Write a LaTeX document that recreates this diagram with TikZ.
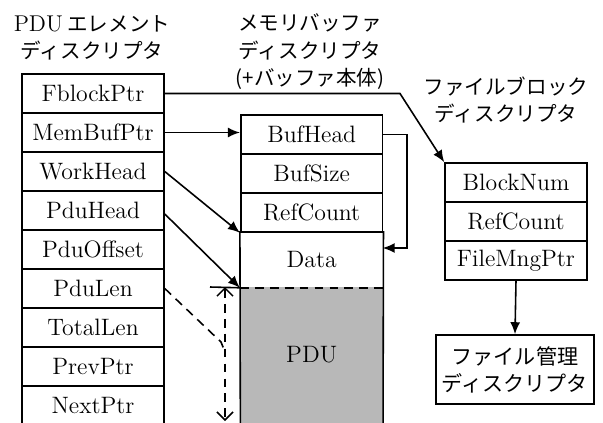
\documentclass[tikz,border=0pt]{standalone}
\usepackage{fontspec}
\newfontfamily\jafont{Noto Sans CJK JP}
\usetikzlibrary{arrows.meta,positioning}

\begin{document}
\begin{tikzpicture}[x=0.02cm, y=-0.02cm,
  cell/.style={rectangle, draw, line width=0.9pt, minimum width=2.84cm, minimum height=0.78cm, inner sep=0pt, font=\fontsize{13.5}{15}\selectfont},
  ttl/.style={align=center, inner sep=0pt, font=\jafont\fontsize{11.7}{15.6}\selectfont},
  arr/.style={-{Latex[length=2.4mm,width=2mm]}, line width=0.9pt},
  dsh/.style={line width=0.9pt, dash pattern=on 5pt off 3.5pt}
]
  \useasboundingbox (0,0) rectangle (603,423);
  \clip (0,0) rectangle (603,423);

  % titles
  \node[ttl] (t1) at (92,38) {{\rmfamily\fontsize{13}{15.6}\selectfont PDU} エレメント\\ディスクリプタ};
  \node[ttl] (t2) at (310,52) {メモリバッファ\\ディスクリプタ\\(+バッファ本体)};
  \node[ttl] (t3) at (506,100) {ファイルブロック\\ディスクリプタ};

  % PDU element descriptor
  \node[cell] (fblock)   at (93,93.5)  {FblockPtr};
  \node[cell] (membuf)   at (93,132.5) {MemBufPtr};
  \node[cell] (workhead) at (93,171.5) {WorkHead};
  \node[cell] (pduhead)  at (93,210.5) {PduHead};
  \node[cell] (pduoff)   at (93,249.5) {PduOffset};
  \node[cell] (pdulen)   at (93,288.5) {PduLen};
  \node[cell] (totallen) at (93,327.5) {TotalLen};
  \node[cell] (prevptr)  at (93,366.5) {PrevPtr};
  \node[cell] (nextptr)  at (93,405.5) {NextPtr};

  % memory buffer descriptor
  \node[cell] (bufhead) at (311.7,134.5) {BufHead};
  \node[cell] (bufsize) at (311.7,173.5) {BufSize};
  \node[cell] (refcnt)  at (311.7,212.5) {RefCount};
  \node[cell, draw=none, minimum height=1.1cm] (data) at (311.7,259.5) {Data};
  \node[fill=black!28, minimum width=2.84cm, minimum height=2.72cm, inner sep=0pt,
        font=\fontsize{13.5}{15}\selectfont] (pdu) at (311.7,355) {PDU};
  \draw[line width=0.9pt] (data.north west) -- ([yshift=-5pt]pdu.south west);
  \draw[line width=0.9pt] (data.north east) -- ([yshift=-5pt]pdu.south east);
  \draw[dsh] (data.south west) -- (data.south east);

  % file block descriptor
  \node[cell] (blknum) at (516,182.5) {BlockNum};
  \node[cell] (frefcnt) at (516,221.5) {RefCount};
  \node[cell] (fmng)   at (516,260.5) {FileMngPtr};
  \node[draw, line width=0.9pt, minimum width=3.12cm, minimum height=1.38cm, align=center,
        font=\jafont\fontsize{12}{15.4}\selectfont] (fdesc) at (515,369.5) {ファイル管理\\ディスクリプタ};

  % pointers
  \coordinate (fbend) at (400,93.5);
  \coordinate (bufturn) at (407,134.5);
  \coordinate (loopin) at (382.7,248);
  \coordinate (lenbend) at (221,342);
  \coordinate (lenjoin) at (225,352);
  \coordinate (lentop) at (225,287);
  \coordinate (lenbot) at (225,421);
  \coordinate (tick) at (210,287);

  \draw[arr] (fblock.east) -- (fbend) -- (blknum.north west);
  \draw[arr] (membuf.east) -- (membuf.east -| bufhead.west);
  \draw[arr] (workhead.east) -- (refcnt.south west);
  \draw[arr] ([yshift=-2pt]pduhead.east) -- (data.south west);
  \draw[arr] (bufhead.east) -- (bufturn) |- (loopin);
  \draw[arr] (fmng.south) -- (fdesc.north);

  % PDU length
  \draw[line width=0.9pt] (tick) -- (data.south west);
  \draw[dsh] (pdulen.east) -- (lenbend) -- (lenjoin);
  \draw[dsh, {Straight Barb[length=1.6mm]}-{Straight Barb[length=1.6mm]}] (lentop) -- (lenbot);
\end{tikzpicture}
\end{document}
